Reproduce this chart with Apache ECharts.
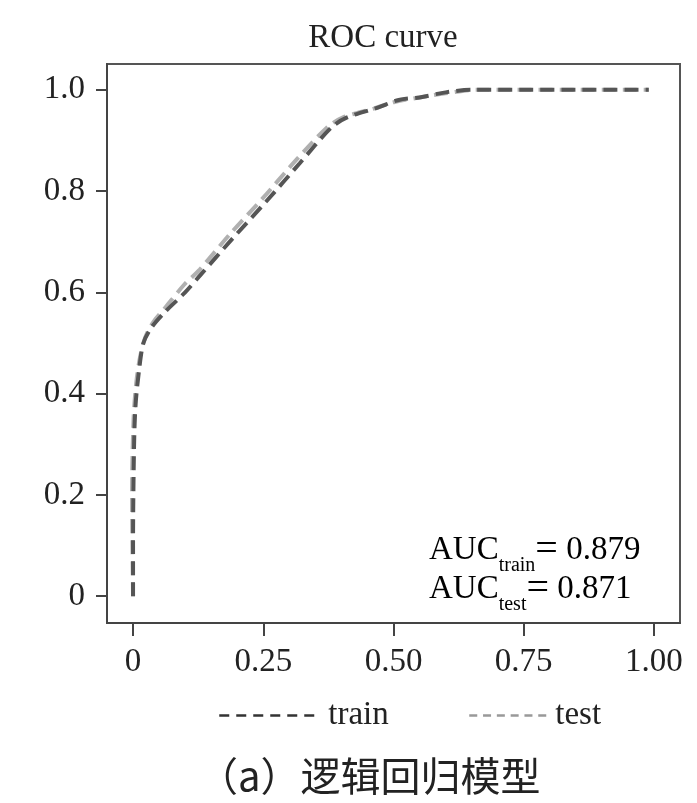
<!DOCTYPE html>
<html>
<head>
<meta charset="utf-8">
<script src="https://cdn.jsdelivr.net/npm/echarts@6/dist/echarts.min.js"></script>
<style>html,body{margin:0;padding:0;background:#fff;}#c{width:697px;height:803px;}</style>
</head>
<body>
<div id="c"></div>
<script>
var xTicks = [0, 0.25, 0.5, 0.75, 1.0];
var xTickLabels = ['0', '0.25', '0.50', '0.75', '1.00'];
var yTicks = [0, 0.2, 0.4, 0.6, 0.8, 1.0];
var yTickLabels = ['0', '0.2', '0.4', '0.6', '0.8', '1.0'];

var trainFpr = [0, 0, 0.002, 0.005, 0.012, 0.02, 0.035, 0.06, 0.1, 0.13, 0.19, 0.256, 0.32, 0.38, 0.41, 0.47, 0.51, 0.55, 0.6, 0.65, 0.99];
var trainTpr = [0, 0.1, 0.3, 0.38, 0.45, 0.5, 0.53, 0.56, 0.6, 0.635, 0.705, 0.78, 0.855, 0.925, 0.945, 0.965, 0.98, 0.985, 0.995, 1.0, 1.0];
var testFpr = [0, -0.002, 0.001, 0.006, 0.013, 0.023, 0.038, 0.062, 0.098, 0.128, 0.186, 0.25, 0.312, 0.372, 0.402, 0.462, 0.502, 0.55, 0.6, 0.66, 0.99];
var testTpr = [0, 0.2, 0.35, 0.42, 0.47, 0.51, 0.54, 0.57, 0.615, 0.645, 0.715, 0.787, 0.86, 0.925, 0.945, 0.963, 0.976, 0.985, 0.993, 1.0, 1.0];

var aucTrain = '0.879';
var aucTest = '0.871';

function pairs(xs, ys) { return xs.map(function (x, i) { return [x, ys[i]]; }); }
function fmt(vals, labels) { return function (v) { for (var i = 0; i < vals.length; i++) { if (Math.abs(vals[i] - v) < 1e-9) return labels[i]; } return ''; }; }

var serif = '"Liberation Serif", "DejaVu Serif", serif';
var chart = echarts.init(document.getElementById('c'));
chart.setOption({
  backgroundColor: '#fff',
  animation: false,
  title: {
    text: 'ROC curve', left: 378, top: 17, textAlign: 'center',
    textStyle: { fontFamily: serif, fontSize: 33, fontWeight: 'normal', color: '#222' }
  },
  grid: { left: 107, right: 17, top: 64, bottom: 180, show: true, borderColor: '#555', borderWidth: 2, backgroundColor: '#fff' },
  xAxis: {
    type: 'value', min: -0.05, max: 1.05,
    axisLine: { onZero: false, lineStyle: { color: '#444', width: 2 } },
    axisTick: { show: true, inside: false, length: 13, customValues: xTicks, lineStyle: { color: '#444', width: 2 } },
    axisLabel: { customValues: xTicks, formatter: fmt(xTicks, xTickLabels), margin: 23, fontFamily: serif, fontSize: 33, color: '#222' },
    splitLine: { show: false }
  },
  yAxis: {
    type: 'value', min: -0.053, max: 1.051,
    axisLine: { onZero: false, show: true, lineStyle: { color: '#444', width: 2 } },
    axisTick: { show: true, inside: false, length: 11, customValues: yTicks, lineStyle: { color: '#444', width: 2 } },
    axisLabel: { customValues: yTicks, formatter: fmt(yTicks, yTickLabels), margin: 22, fontFamily: serif, fontSize: 33, color: '#222' },
    splitLine: { show: false }
  },
  legend: [
    {
      data: ['train'], left: 213, top: 694, itemWidth: 97, itemHeight: 14, itemGap: 0,
      lineStyle: { type: [10, 7], width: 2.5, color: '#333' },
      itemStyle: { opacity: 0 },
      textStyle: { fontFamily: serif, fontSize: 33, color: '#222', padding: [0, 0, 0, 7] }
    },
    {
      data: ['test'], left: 463, top: 694, itemWidth: 77, itemHeight: 14, itemGap: 0,
      lineStyle: { type: [8, 5.8], width: 2.5, color: '#999' },
      itemStyle: { opacity: 0 },
      textStyle: { fontFamily: serif, fontSize: 33, color: '#222', padding: [0, 0, 0, 4] }
    }
  ],
  series: [
    {
      name: 'test', type: 'line', data: pairs(testFpr, testTpr), symbol: 'none', smooth: 0.3,
      lineStyle: { color: '#b0b0b0', width: 4, type: [14, 7] }, z: 2
    },
    {
      name: 'train', type: 'line', data: pairs(trainFpr, trainTpr), symbol: 'none', smooth: 0.3,
      lineStyle: { color: '#555', width: 4, type: [14, 7] }, z: 3
    }
  ],
  graphic: [
    {
      type: 'text', left: 429, top: 530, z: 10,
      style: {
        text: '{a|AUC}{s|train}{e|=}{a| ' + aucTrain + '}',
        rich: {
          a: { fontFamily: serif, fontSize: 33, color: '#222' },
          s: { fontFamily: serif, fontSize: 20, color: '#222', verticalAlign: 'bottom', padding: [0, 0, -6, 0] },
          e: { fontFamily: serif, fontSize: 40, color: '#222' }
        }
      }
    },
    {
      type: 'text', left: 429, top: 569, z: 10,
      style: {
        text: '{a|AUC}{s|test}{e|=}{a| ' + aucTest + '}',
        rich: {
          a: { fontFamily: serif, fontSize: 33, color: '#222' },
          s: { fontFamily: serif, fontSize: 20, color: '#222', verticalAlign: 'bottom', padding: [0, 0, -6, 0] },
          e: { fontFamily: serif, fontSize: 40, color: '#222' }
        }
      }
    },
    {
      type: 'text', left: 198, top: 756, z: 10,
      style: { text: '（a）逻辑回归模型', fontFamily: '"Noto Sans CJK SC", sans-serif', fontSize: 40, fill: '#222' }
    }
  ]
});
</script>
</body>
</html>
